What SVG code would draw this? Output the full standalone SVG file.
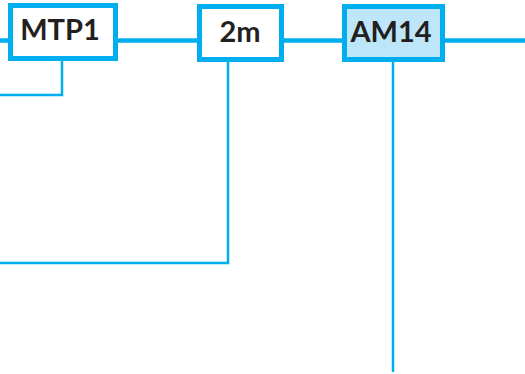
<svg xmlns="http://www.w3.org/2000/svg" width="525" height="374" viewBox="0 0 525 374">
<style>
.box{fill:#ffffff;stroke:#00aeef;stroke-width:5}
.hl{fill:#bde6f9}
.main{stroke:#00aeef;stroke-width:4.5;fill:none}
.thin{stroke:#00aeef;stroke-width:2.5;fill:none}
.lbl{font-family:Lato,"Open Sans",sans-serif;font-weight:bold;font-size:29px;fill:#231f20;text-anchor:middle}
</style>
<rect width="525" height="374" fill="#ffffff"/>
<g id="connectors">
<line class="main" x1="0" y1="40.5" x2="10" y2="40.5"/>
<line class="main" x1="116" y1="40.5" x2="199" y2="40.5"/>
<line class="main" x1="282" y1="40.5" x2="344" y2="40.5"/>
<line class="main" x1="443" y1="40.5" x2="525" y2="40.5"/>
<polyline class="thin" points="62,60 62,95 0,95"/>
<polyline class="thin" points="228,60 228,263 0,263"/>
<line class="thin" x1="393" y1="60" x2="393" y2="372"/>
</g>
<g id="MTP1">
<rect class="box" x="10.5" y="5.5" width="105" height="53"/>
<text class="lbl" x="60" y="40">MTP1</text>
</g>
<g id="n2m">
<rect class="box" x="199.5" y="6.5" width="82" height="53"/>
<text class="lbl" x="240" y="42">2m</text>
</g>
<g id="AM14">
<rect class="box hl" x="344.5" y="6.5" width="98" height="53"/>
<text class="lbl" x="391" y="42">AM14</text>
</g>
</svg>
